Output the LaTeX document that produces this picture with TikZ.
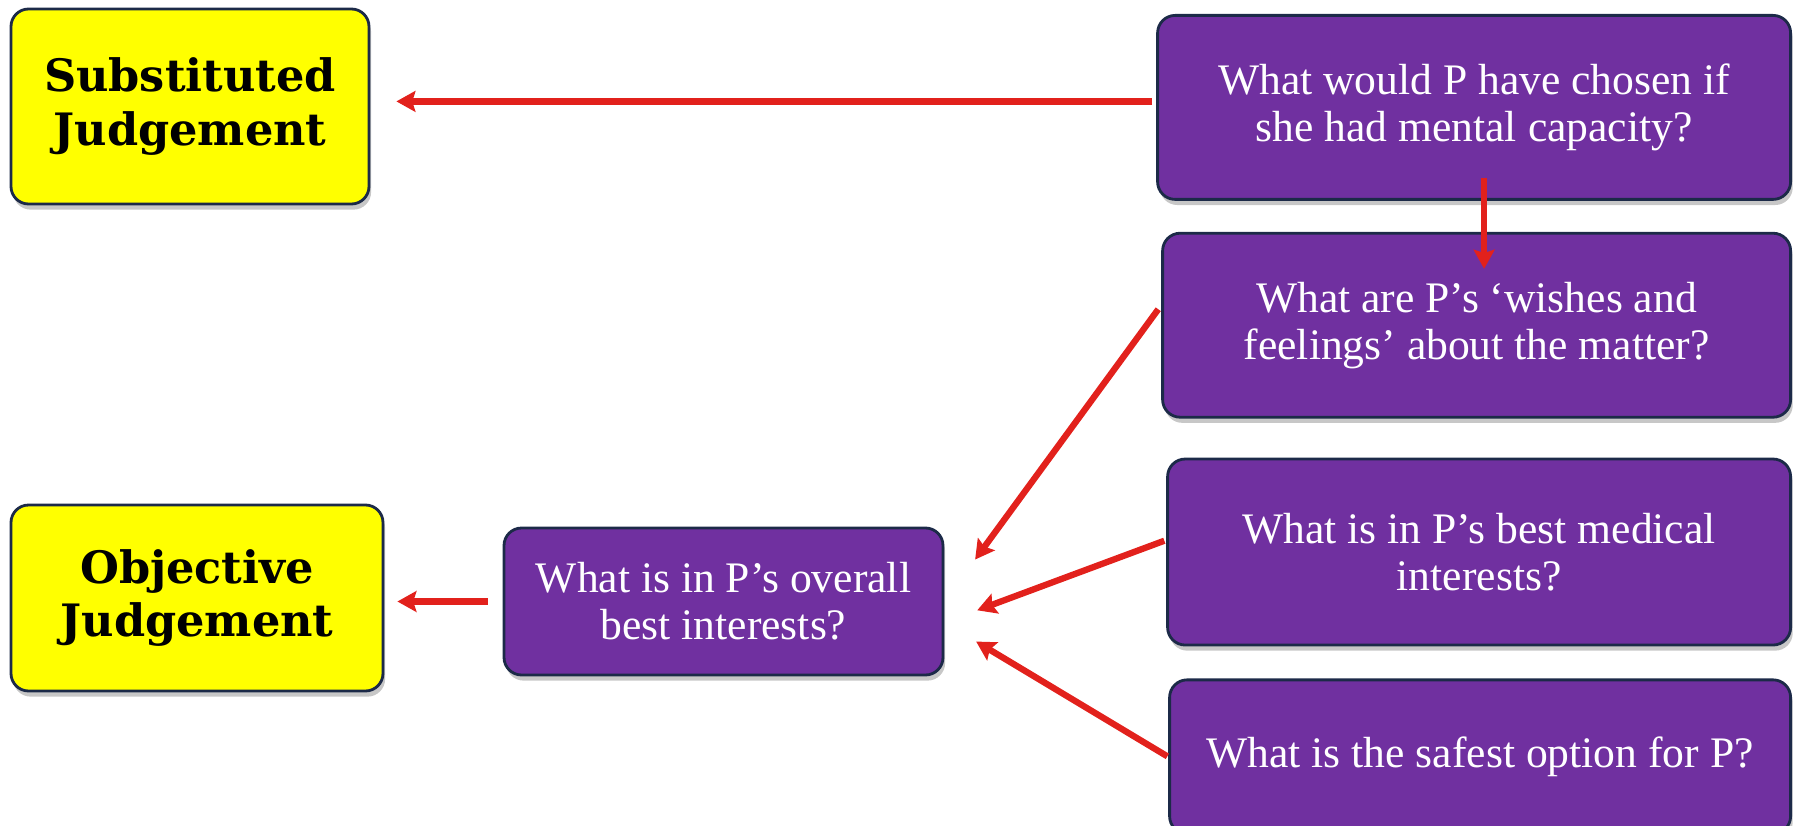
\documentclass[tikz,border=0pt]{standalone}
\usepackage{fontspec}
\setmainfont{Liberation Serif}
\newfontfamily\verdictserif{DejaVu Serif}
\usepackage{xcolor}
\usepackage{tikz}
\usetikzlibrary{arrows.meta, positioning, shadows}
\definecolor{qpurple}{HTML}{7030A0}
\definecolor{edgenavy}{HTML}{1C2A48}
\definecolor{arrowred}{HTML}{E2211C}
\definecolor{verdictyellow}{HTML}{FFFF00}
\tikzstyle{verdict}  = [rectangle, rounded corners=5pt, draw=edgenavy,
                         line width=0.8pt, fill=verdictyellow, inner sep=0pt,
                         align=center, font=\fontsize{12.7}{15.2}\verdictserif\bfseries,
                         drop shadow={shadow xshift=0.6pt, shadow yshift=-1.6pt,
                                      fill=black, opacity=0.22}]
\tikzstyle{question} = [rectangle, rounded corners=5pt, draw=edgenavy,
                         line width=0.8pt, fill=qpurple, text=white, inner sep=0pt,
                         align=center, font=\fontsize{12.4}{13.4}\selectfont,
                         drop shadow={shadow xshift=0.6pt, shadow yshift=-1.6pt,
                                      fill=black, opacity=0.22}]
\tikzstyle{arrow}    = [-{Stealth[length=5.4pt, width=5.9pt, inset=0.9pt]},
                         line width=1.8pt, draw=arrowred]

\begin{document}
\begin{tikzpicture}[node distance=0.31cm]
  \useasboundingbox (0,0) rectangle (17.96,-8.26);

  \node[verdict, minimum width=3.58cm, minimum height=1.95cm] (subst) at (1.90,-1.065)
    {Substituted\\Judgement};
  \node[verdict, minimum width=3.72cm, minimum height=1.86cm] (objective) at (1.97,-5.98)
    {Objective\\Judgement};
  \node[question, minimum width=4.39cm, minimum height=1.47cm] (overall) at (7.235,-6.015)
    {What is in P’s overall\\best interests?};

  \node[question, minimum width=6.33cm, minimum height=1.84cm, anchor=north east] (chosen)
    at (17.92,-0.14) {What would P have chosen if\\she had mental capacity?};
  \node[question, minimum width=6.28cm, minimum height=1.84cm,
        below=0.31cm of chosen.south east, anchor=north east] (wishes)
    {What are P’s ‘wishes and\\feelings’ about the matter?};
  \node[question, minimum width=6.23cm, minimum height=1.86cm,
        below=0.39cm of wishes.south east, anchor=north east] (medical)
    {What is in P’s best medical\\interests?};
  \node[question, minimum width=6.21cm, minimum height=1.54cm,
        below=0.32cm of medical.south east, anchor=north east] (safest)
    {What is the safest option for P?};

  \draw[arrow, shorten <=0.04cm, shorten >=0.26cm]
    ([yshift=0.06cm]chosen.west) -- ([yshift=0.06cm]chosen.west -| subst.east);
  \draw[arrow, shorten <=-0.23cm, shorten >=-0.37cm]
    ([xshift=0.1cm]chosen.south) -- ([xshift=0.1cm]chosen.south |- wishes.north);
  \draw[arrow, shorten <=0.05cm, shorten >=0.52cm]
    ([yshift=0.2cm]wishes.west) -- (overall.east);
  \draw[arrow, shorten <=0.02cm, shorten >=0.35cm]
    ([yshift=0.12cm]medical.west) -- ([yshift=-0.21cm]overall.east);
  \draw[arrow, shorten <=0.01cm, shorten >=0.37cm]
    (safest.west) -- ([yshift=-0.21cm]overall.east);
  \draw[arrow, shorten <=0.15cm, shorten >=0.13cm]
    (overall.west) -- (overall.west -| objective.east);

\end{tikzpicture}
\end{document}
